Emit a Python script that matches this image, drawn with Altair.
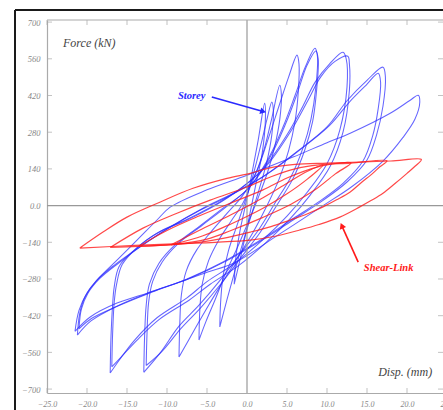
import altair as alt
import pandas as pd

# ---------------- data: (displacement mm, force kN) ----------------
storey_1 = [(-1.6,-300),(-1.4,-200),(-0.9,-100),(-0.2,0),(0.6,120),(1.4,250),(2.2,390),
            (2.3,330),(1.9,200),(1.1,80),(0.3,-40),(-0.6,-170),(-1.6,-300)]
storey_2 = [(-3.4,-463),(-3.3,-370),(-3.0,-270),(-2.3,-170),(-1.3,-80),(-0.2,20),(0.8,120),(1.8,240),(2.5,330),(3.1,395),
            (3.3,360),(3.1,270),(2.5,170),(1.5,60),(0.5,-40),(-0.6,-150),(-1.7,-270),(-2.6,-370),(-3.4,-463)]
storey_3 = [(-6.0,-513),(-5.9,-400),(-5.6,-300),(-4.8,-210),(-3.5,-130),(-2.0,-60),(-0.5,10),(0.8,100),(2.0,200),(3.0,320),(4.1,459),
            (4.3,420),(4.1,330),(3.5,230),(2.6,130),(1.4,30),(0.2,-60),(-1.2,-160),(-2.7,-260),(-4.0,-360),(-5.1,-440),(-6.0,-513)]
storey_4 = [(-8.5,-578),(-8.4,-450),(-8.2,-340),(-7.6,-250),(-6.3,-170),(-4.5,-100),(-2.5,-30),(-0.5,40),(1.2,130),(2.6,250),(4.0,380),(5.2,490),(6.25,574),
            (6.5,540),(6.4,430),(6.0,320),(5.2,210),(4.0,100),(2.5,0),(0.8,-100),(-1.0,-190),(-3.0,-290),(-4.8,-380),(-6.5,-470),(-8.5,-578)]
storey_5 = [(-12.9,-636),(-12.8,-500),(-12.6,-380),(-12.2,-300),(-11.0,-220),(-9.0,-150),(-6.0,-80),(-3.0,-10),(0.0,60),(2.5,170),(4.5,300),(6.0,420),(7.3,530),(8.5,600),
            (8.8,570),(8.6,450),(8.0,330),(7.0,220),(5.5,110),(3.5,10),(1.5,-90),(-1.0,-190),(-3.5,-290),(-6.0,-380),(-8.5,-460),(-10.8,-560),(-12.9,-636)]
storey_5b = [(-12.6,-610),(-12.5,-490),(-12.3,-370),(-11.8,-290),(-10.6,-215),(-8.6,-145),(-5.6,-75),(-2.6,-5),(0.3,70),(2.8,180),(4.8,310),(6.3,430),(7.5,535),(8.6,590),
             (8.9,560),(8.7,440),(8.2,320),(7.2,210),(5.7,100),(3.7,0),(1.7,-100),(-0.8,-200),(-3.3,-300),(-5.8,-390),(-8.3,-470),(-10.6,-555),(-12.6,-610)]
storey_6 = [(-17.1,-639),(-17.0,-500),(-16.8,-380),(-16.6,-311),(-16.0,-233),(-14.1,-170),(-11.25,-105),(-7.5,-55),(-4.0,0),(-1.0,60),(2.0,140),(5.0,270),(7.0,380),(8.5,470),(10.3,540),(12.0,585),
            (12.4,560),(12.5,452),(11.6,288),(10.0,160),(7.5,50),(5.0,-40),(2.0,-130),(-1.5,-220),(-5.0,-290),(-7.5,-352),(-11.25,-428),(-14.1,-515),(-16.0,-591),(-17.1,-639)]
storey_6b = [(-16.9,-615),(-16.8,-490),(-16.6,-370),(-16.3,-300),(-15.6,-225),(-13.7,-160),(-10.8,-98),(-7.0,-45),(-3.6,10),(-0.6,70),(2.4,150),(5.4,280),(7.6,400),(9.2,490),(11.0,550),(12.6,570),
             (12.8,540),(12.8,440),(12.0,280),(10.4,150),(7.9,40),(5.4,-50),(2.4,-140),(-1.1,-230),(-4.6,-300),(-7.2,-360),(-11.0,-435),(-13.8,-515),(-15.8,-580),(-16.9,-615)]
storey_7 = [(-21.2,-494),(-20.9,-410),(-20.2,-345),(-18.8,-285),(-16.5,-225),(-13.5,-160),(-10.0,-90),(-6.0,-20),(-2.0,40),(2.0,110),(6.0,200),(10.0,300),(12.5,400),(15.0,478),(17.0,528),
            (17.3,490),(17.0,380),(16.2,270),(15.0,174),(12.5,90),(9.5,20),(6.0,-50),(2.0,-130),(-2.5,-210),(-7.0,-275),(-12.0,-330),(-16.0,-380),(-19.5,-440),(-21.2,-494)]
storey_7b = [(-21.0,-470),(-20.7,-395),(-19.9,-335),(-18.4,-278),(-16.0,-218),(-13.0,-150),(-9.5,-80),(-5.5,-10),(-1.5,50),(2.5,120),(6.5,210),(10.3,305),(12.8,395),(14.9,460),(16.4,505),
             (16.7,470),(16.4,370),(15.7,265),(14.5,170),(12.0,85),(9.0,15),(5.5,-55),(1.5,-135),(-3.0,-215),(-7.5,-280),(-12.3,-335),(-16.3,-385),(-19.4,-430),(-21.0,-470)]
storey_8 = [(-21.5,-480),(-21.0,-400),(-20.0,-334),(-18.4,-273),(-16.25,-208),(-13.75,-132),(-11.25,-55),(-9.6,-6),(-5.0,60),(0.0,116),(5.75,185),(10.0,240),(12.9,276),(17.9,352),(20.4,402),(21.4,421),
            (21.6,395),(21.0,330),(19.5,260),(17.0,170),(13.0,70),(9.5,0),(4.0,-110),(-1.6,-219),(-5.0,-254),(-8.4,-292),(-12.5,-334),(-16.25,-372),(-19.6,-425),(-21.5,-480)]

link_1 = [(-20.9,-162),(-18.0,-101),(-15.0,-44),(-10.9,13),(-6.75,66),(-2.5,104),(0.4,123),(3.0,145),(6.0,157),(10.0,162),(14.0,166),(18.0,170),(21.8,176),
          (21.0,150),(20.0,123),(18.5,84),(17.0,47),(15.5,19),(14.1,-5),(11.6,-44),(9.0,-72),(6.6,-93),(3.5,-117),(0.4,-132),(-4.0,-140),(-8.4,-145),(-14.0,-152),(-20.9,-162)]
link_2 = [(-17.1,-160),(-13.0,-86),(-8.75,-29),(-4.6,21),(0.0,71),(3.0,110),(6.0,140),(9.0,155),(13.0,162),(17.5,171),
          (16.6,148),(15.75,124),(14.3,88),(12.9,52),(11.2,22),(9.5,-5),(7.5,-32),(5.4,-55),(3.0,-80),(0.4,-101),(-3.0,-125),(-6.0,-140),(-11.0,-152),(-17.1,-160)]
link_3 = [(-13.5,-155),(-10.0,-95),(-6.0,-40),(-2.0,10),(2.0,60),(5.0,105),(8.0,140),(10.5,158),(13.0,163),
          (11.0,120),(8.5,60),(5.5,5),(2.0,-45),(-2.0,-95),(-5.0,-128),(-9.0,-148),(-13.5,-155)]
link_4 = [(-9.5,-150),(-6.0,-95),(-2.0,-35),(2.0,30),(5.0,85),(7.5,130),(9.5,155),
          (7.5,100),(5.0,45),(2.0,-10),(-2.0,-70),(-5.5,-115),(-9.5,-150)]

x_ticks = [-25, -20, -15, -10, -5, 0, 5, 10, 15, 20, 25]
y_ticks = [-700, -560, -420, -280, -140, 0, 140, 280, 420, 560, 700]

axis_texts = [("Force (kN)", -23.0, 620), ("Disp. (mm)", 16.4, -635)]
storey_label = ("Storey", -5.2, 418)
link_label = ("Shear-Link", 14.6, -238)
storey_arrow = (-4.4, 414, 1.9, 360)
link_arrow = (13.9, -216, 11.9, -80)

# ---------------- build tables ----------------
def table(loops):
    rows = []
    for name, pts in loops:
        for i, (x, y) in enumerate(pts):
            rows.append({"loop": name, "i": i, "x": x, "y": y})
    return pd.DataFrame(rows)

blue_df = table([("s1", storey_1), ("s2", storey_2), ("s3", storey_3), ("s4", storey_4),
                 ("s5", storey_5), ("s5b", storey_5b), ("s6", storey_6), ("s6b", storey_6b),
                 ("s7", storey_7), ("s7b", storey_7b), ("s8", storey_8)])
red_df = table([("l1", link_1), ("l2", link_2), ("l3", link_3), ("l4", link_4)])

W, H = 396, 373
SERIF = "Liberation Serif"
BLUE = "#2a2aff"
RED = "#ff1a1a"
xs = alt.Scale(domain=[-25, 25], range=[0, 400], nice=False, zero=False)
ys = alt.Scale(domain=[-715, 708], nice=False, zero=False)

xaxis = alt.Axis(values=x_ticks, format=".1f", tickSize=0, grid=False, domainColor="#aaaaaa",
                 domainWidth=1.2, labelFont=SERIF, labelFontStyle="italic", labelFontSize=8,
                 labelColor="#888888", labelPadding=7, title=None, labelFlush=False)
yaxis = alt.Axis(values=y_ticks, labelExpr="datum.value == 0 ? '0.0' : format(datum.value, 'd')",
                 tickSize=0, grid=False, domainColor="#aaaaaa", domainWidth=1.2, labelFont=SERIF,
                 labelFontStyle="italic", labelFontSize=8.5, labelColor="#888888", labelPadding=7,
                 title=None, labelFlush=False)

def X(field):
    return alt.X(field, type="quantitative", scale=xs, axis=xaxis)

def Y(field):
    return alt.Y(field, type="quantitative", scale=ys, axis=yaxis)

blue = alt.Chart(blue_df).mark_line(interpolate="catmull-rom", strokeWidth=1.05, color=BLUE, opacity=0.72).encode(
    x=X("x"), y=Y("y"), detail="loop:N", order="i:Q")
red = alt.Chart(red_df).mark_line(interpolate="catmull-rom", strokeWidth=1.2, color=RED, opacity=0.8).encode(
    x=X("x"), y=Y("y"), detail="loop:N", order="i:Q")

zero_v = alt.Chart(pd.DataFrame({"x": [0]})).mark_rule(color="#999999", strokeWidth=1.2).encode(x=X("x"))
zero_h = alt.Chart(pd.DataFrame({"y": [0]})).mark_rule(color="#999999", strokeWidth=1.2).encode(y=Y("y"))

# inward ticks
ytk = pd.DataFrame({"y": [v for v in y_ticks if v != 0]})
xtk = pd.DataFrame({"x": [v for v in x_ticks if v != 0]})
left_ticks = alt.Chart(ytk).mark_tick(orient="horizontal", color="#aaaaaa", thickness=1, size=5).encode(
    y=Y("y"), x=alt.value(2.5))
right_ticks = alt.Chart(ytk).mark_tick(orient="horizontal", color="#aaaaaa", thickness=1, size=6).encode(
    y=Y("y"), x=alt.value(394))
top_ticks = alt.Chart(xtk).mark_tick(orient="vertical", color="#aaaaaa", thickness=1, size=5).encode(
    x=X("x"), y=alt.value(2.5))
bottom_ticks = alt.Chart(xtk).mark_tick(orient="vertical", color="#aaaaaa", thickness=1, size=5).encode(
    x=X("x"), y=alt.value(H - 2.5))

one = pd.DataFrame({"a": [0]})
top_border = alt.Chart(one).mark_rule(color="#aaaaaa", strokeWidth=1.2).encode(
    x=alt.value(0), x2=alt.value(400), y=alt.value(0))
frame_left = alt.Chart(one).mark_rule(color="#1a1a1a", strokeWidth=2).encode(
    x=alt.value(-32), y=alt.value(-10), y2=alt.value(H + 20))
frame_top = alt.Chart(one).mark_rule(color="#1a1a1a", strokeWidth=2).encode(
    x=alt.value(-32), x2=alt.value(400), y=alt.value(-10))

txt_df = pd.DataFrame(axis_texts, columns=["t", "x", "y"])
axis_titles = alt.Chart(txt_df).mark_text(font=SERIF, fontStyle="italic", fontSize=12, align="left",
                                          baseline="middle", color="#444444").encode(
    x=X("x"), y=Y("y"), text="t:N")

storey_txt = alt.Chart(pd.DataFrame([storey_label], columns=["t", "x", "y"])).mark_text(
    font=SERIF, fontWeight="bold", fontStyle="italic", fontSize=10.5, align="right", baseline="middle",
    color=BLUE).encode(x=X("x"), y=Y("y"), text="t:N")
link_txt = alt.Chart(pd.DataFrame([link_label], columns=["t", "x", "y"])).mark_text(
    font=SERIF, fontWeight="bold", fontStyle="italic", fontSize=10.5, align="left", baseline="middle",
    color=RED).encode(x=X("x"), y=Y("y"), text="t:N")

arr_df = pd.DataFrame([storey_arrow + (BLUE, 106), link_arrow + (RED, 337)],
                      columns=["x", "y", "x2", "y2", "c", "ang"])
arrow_lines = alt.Chart(arr_df).mark_rule(strokeWidth=1.6).encode(
    x=X("x"), y=Y("y"), x2="x2:Q", y2="y2:Q", color=alt.Color("c:N", scale=None))
arrow_heads = alt.Chart(arr_df).mark_point(shape="triangle", filled=True, size=45, opacity=1).encode(
    x=X("x2"), y=Y("y2"), color=alt.Color("c:N", scale=None), angle=alt.Angle("ang:Q", scale=None))

chart = alt.layer(
    blue, zero_v, zero_h, red, left_ticks, right_ticks, top_ticks, bottom_ticks, top_border,
    frame_left, frame_top, axis_titles, storey_txt, link_txt, arrow_lines, arrow_heads,
).properties(
    width=W, height=H,
    autosize=alt.AutoSizeParams(type="none"),
    padding={"left": 47, "top": 20, "right": 0, "bottom": 17},
    background="white",
).configure_view(stroke=None)

chart.save("out.html", embed_options={"renderer": "svg", "actions": False})
